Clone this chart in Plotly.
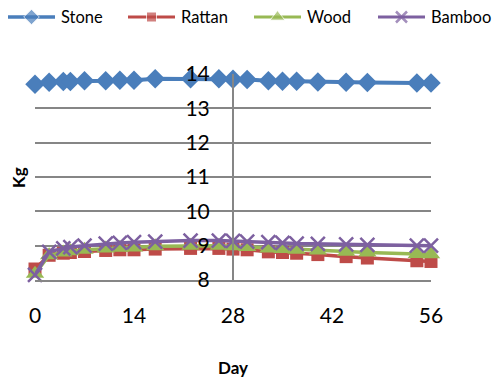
import plotly.graph_objects as go

# Sampling days and measured mass (kg) for each material
days = [0, 2, 4, 5, 7, 10, 12, 14, 17, 22, 26, 28, 30, 33, 35, 37, 40, 44, 47, 54, 56]
stone = [13.70, 13.76, 13.78, 13.78, 13.80, 13.80, 13.82, 13.82, 13.86, 13.86, 13.86,
         13.85, 13.84, 13.80, 13.79, 13.79, 13.77, 13.76, 13.75, 13.74, 13.74]
rattan = [8.32, 8.72, 8.78, 8.80, 8.83, 8.86, 8.88, 8.88, 8.90, 8.92, 8.92,
          8.90, 8.88, 8.82, 8.80, 8.78, 8.74, 8.68, 8.64, 8.56, 8.54]
wood = [8.18, 8.72, 8.80, 8.84, 8.88, 8.92, 8.94, 8.95, 8.98, 9.00, 9.00,
        8.98, 8.96, 8.92, 8.90, 8.88, 8.86, 8.82, 8.80, 8.76, 8.75]
bamboo = [8.15, 8.82, 8.92, 8.96, 9.00, 9.06, 9.08, 9.10, 9.12, 9.15, 9.15,
          9.14, 9.12, 9.10, 9.08, 9.06, 9.05, 9.04, 9.02, 9.00, 9.00]

x_ticks = [0, 14, 28, 42, 56]
y_ticks = [8, 9, 10, 11, 12, 13, 14]

FONT = "Lato"
GRID = "#868686"
W, H = 492, 379
# plot-area insets (pixels) inside a zero-margin page
ML, MR, MT, MB = 35, 61, 74, 99

series = [
    ("Stone", stone, "#4A7EBB", dict(symbol="diamond"), 15, 4),
    ("Rattan", rattan, "#BE4B48", dict(symbol="square"), 13, 3.5),
    ("Wood", wood, "#98B954", dict(symbol="triangle-up"), 16, 3.5),
    ("Bamboo", bamboo, "#7D60A0", dict(symbol="x-thin", line=dict(width=2.5, color="#7D60A0")), 14, 3.5),
]

# Legend row: start of each key, key length, and row height (page pixels)
legend_starts = [8, 128, 254, 378]
KEY_LEN, LEGEND_Y = 47, 17

fig = go.Figure()
annotations = []
for name, vals, color, marker, msize, lw in series:
    fig.add_trace(go.Scatter(
        x=days, y=vals, name=name, mode="lines+markers",
        line=dict(color=color, width=lw),
        marker=dict(color=color, size=msize, **marker),
        cliponaxis=False, showlegend=False,
    ))

for (name, vals, color, marker, msize, lw), lx in zip(series, legend_starts):
    # legend key on a page-pixel overlay: line, centred marker, label
    fig.add_trace(go.Scatter(
        x=[lx, lx + KEY_LEN / 2, lx + KEY_LEN], y=[H - LEGEND_Y] * 3,
        mode="lines+markers",
        line=dict(color=color, width=lw - 0.5),
        marker=dict(color=color, size=[0, msize - 3, 0], **marker),
        xaxis="x2", yaxis="y2", showlegend=False, hoverinfo="skip",
    ))
    annotations.append(dict(text=name, xref="paper", yref="paper",
                            x=(lx + KEY_LEN + 4) / W, y=(H - LEGEND_Y) / H,
                            xanchor="left", yanchor="middle", showarrow=False,
                            font=dict(size=16.5, family=FONT, color="#000000")))

annotations += [
    dict(text="<b>Day</b>", xref="paper", yref="paper", x=(ML + (W - ML - MR) / 2) / W,
         y=(H - 367) / H, showarrow=False, font=dict(size=17, family=FONT),
         xanchor="center", yanchor="middle"),
    dict(text="<b>Kg</b>", xref="paper", yref="paper", x=19 / W, y=(H - 178) / H,
         showarrow=False, font=dict(size=17, family=FONT), textangle=-90,
         xanchor="center", yanchor="middle"),
]

fig.update_layout(
    width=W, height=H,
    margin=dict(l=0, r=0, t=0, b=0, autoexpand=False),
    paper_bgcolor="white", plot_bgcolor="rgba(0,0,0,0)",
    font=dict(family=FONT, color="#000000"),
    showlegend=False,
    xaxis=dict(
        domain=[ML / W, (W - MR) / W],
        range=[0, 56], tickvals=x_ticks, ticktext=[str(v) for v in x_ticks],
        showgrid=False, zeroline=False,
        showline=True, linecolor=GRID, linewidth=2,
        ticks="", ticklabelstandoff=16,
        tickfont=dict(size=21, family=FONT),
    ),
    yaxis=dict(
        domain=[MB / H, (H - MT) / H],
        range=[8, 14], tickvals=y_ticks, ticktext=[str(v) for v in y_ticks],
        showgrid=True, gridcolor=GRID, gridwidth=2,
        zeroline=False,
        anchor="free", position=(ML + (W - ML - MR) / 2) / W,
        showline=True, linecolor=GRID, linewidth=2,
        ticks="", ticklabelstandoff=18,
        tickfont=dict(size=21, family=FONT),
    ),
    # full-page overlay in pixel units, used only for the legend keys
    xaxis2=dict(domain=[0, 1], range=[0, W], anchor="y2", visible=False, fixedrange=True),
    yaxis2=dict(domain=[0, 1], range=[0, H], anchor="x2", visible=False, fixedrange=True),
    annotations=annotations,
)

fig.write_html("out.html")
